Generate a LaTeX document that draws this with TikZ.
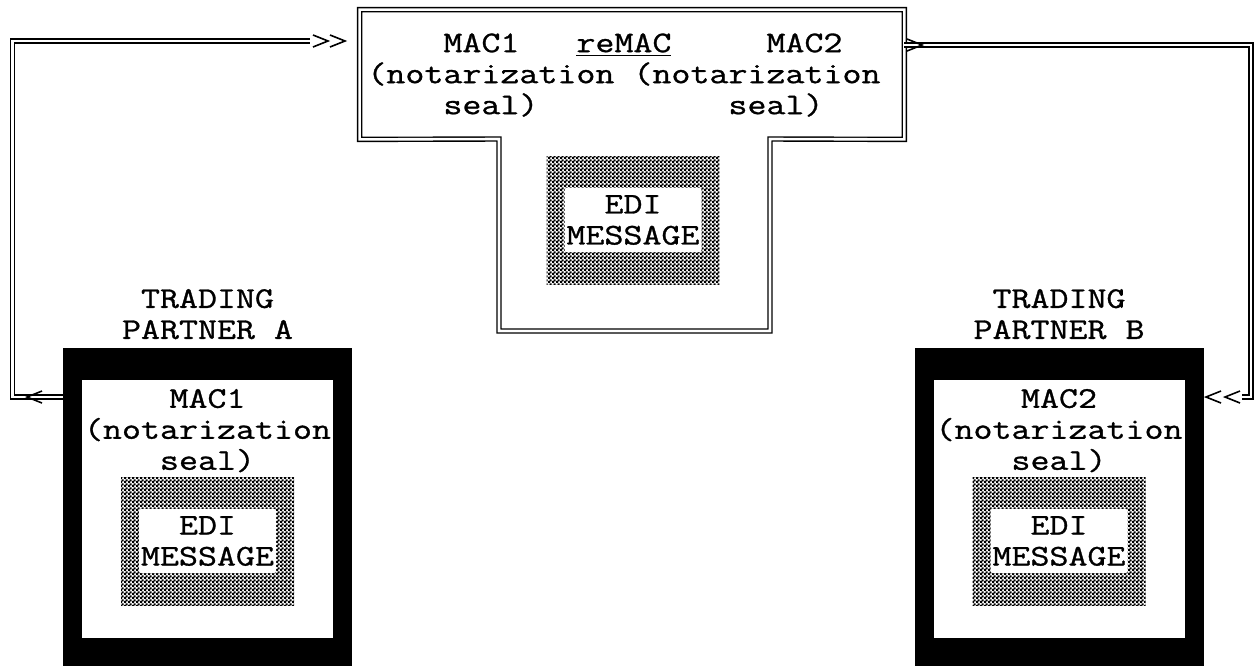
\documentclass[tikz,border=0pt]{standalone}
\usepackage{fontspec}
\setmonofont[FakeStretch=1.23, FakeBold=1]{Latin Modern Mono}
\usepackage{tikz}
\usetikzlibrary{positioning, patterns}

\pgfdeclarepatternformonly{checker}{\pgfpointorigin}{\pgfqpoint{2pt}{2pt}}{\pgfqpoint{2pt}{2pt}}{%
    \pgfpathrectangle{\pgfpointorigin}{\pgfqpoint{1.3pt}{1.3pt}}%
    \pgfpathrectangle{\pgfqpoint{1pt}{1pt}}{\pgfqpoint{1.3pt}{1.3pt}}%
    \pgfusepath{fill}}

\tikzstyle{txt} = [font=\ttfamily\fontsize{15}{15.5}\selectfont,
    inner sep=0pt,
    align=center]
\tikzstyle{frame} = [rectangle,
    fill=black,
    minimum width=144.5pt,
    minimum height=159pt,
    inner sep=0pt]
\tikzstyle{hole} = [rectangle,
    fill=white,
    minimum width=125.5pt,
    minimum height=129pt,
    inner sep=0pt]
\tikzstyle{hatch} = [rectangle,
    pattern=checker,
    minimum width=86.5pt,
    minimum height=64pt,
    inner sep=0pt]
\tikzstyle{window} = [txt,
    rectangle,
    rounded corners=1pt,
    fill=white,
    minimum width=68.5pt,
    minimum height=32pt]
\tikzstyle{dbl} = [double, double distance=1.3pt, line width=0.7pt]
\tikzset{chevron/.pic={\draw[line width=0.8pt] (-15,-6) -- (0,0) -- (-15,6);}}

\begin{document}
\begin{tikzpicture}[x=0.5pt, y=-0.5pt]
        \useasboundingbox (0,0) rectangle (1257,666);

        % notary in the middle
        \node (notary) [rectangle, minimum width=272pt, minimum height=64.5pt] at (632,74.5) {};
        \draw [dbl] (notary.north west) -- (notary.north east) -- (notary.south east)
            -- (770,139) -- (770,331) -- (499,331) -- (499,139) -- (notary.south west) -- cycle;
        \node (notarytext) [txt, align=left, anchor=north west] at (367,33)
        {~~~~MAC1~~~\underline{reMAC}~~~~~MAC2\\(notarization~(notarization\\~~~~seal)~~~~~~~~~~seal)};
        \node (ediN) [hatch] at (633,220) {};
        \node (msgN) [window] at (ediN) {EDI\\MESSAGE};

        % trading partner A
        \node (partA) [frame] at (207.5,507) {};
        \node (holeA) [hole] at ([yshift=-1pt]partA.center) {};
        \node (labelA) [txt, above=4pt of partA] {TRADING\\PARTNER A};
        \node (macA) [txt, below=20.5pt of partA.north] {MAC1\\(notarization\\seal)};
        \node (ediA) [hatch] at ([yshift=-17pt]partA.center) {};
        \node (msgA) [window] at (ediA) {EDI\\MESSAGE};

        % trading partner B
        \node (partB) [frame] at (1059,507) {};
        \node (holeB) [hole] at ([yshift=-1pt]partB.center) {};
        \node (labelB) [txt, above=4pt of partB] {TRADING\\PARTNER B};
        \node (macB) [txt, below=20.5pt of partB.north] {MAC2\\(notarization\\seal)};
        \node (ediB) [hatch] at ([yshift=-17pt]partB.center) {};
        \node (msgB) [window] at (ediB) {EDI\\MESSAGE};

        % A to notary
        \draw [dbl, shorten >=25pt] (partA.west |- 0,397) -- (12.5,397) -- (12.5,41) -- (notary.west |- 0,41);
        \pic [rotate=180] at (27,397) {chevron};
        \pic at (328,41) {chevron};
        \pic at (345,41) {chevron};

        % notary to B
        \draw [dbl, shorten >=19pt] (notary.east |- 0,45) -- (1251,45) -- (1251,397) -- (partB.east |- 0,397);
        \pic at (922,45) {chevron};
        \pic [rotate=180] at (1206,397) {chevron};
        \pic [rotate=180] at (1225,397) {chevron};
    \end{tikzpicture}
\end{document}
